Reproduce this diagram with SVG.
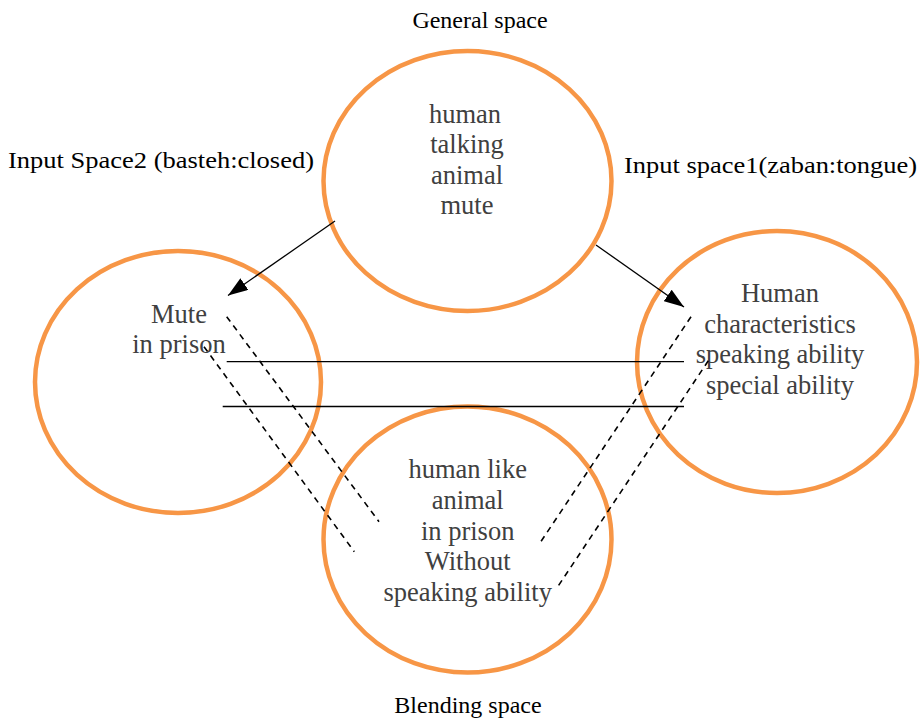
<svg xmlns="http://www.w3.org/2000/svg" width="920" height="719" viewBox="0 0 920 719">
<defs>
<style>
.space{fill:none;stroke:#F79646;stroke-width:4.5}
.inner{font-family:"Liberation Serif","Times New Roman",serif;font-size:26.5px;fill:#404040;text-anchor:middle}
.title{font-family:"Liberation Serif","Times New Roman",serif;font-size:24px;fill:#000}
.solid{stroke:#000;stroke-width:1.3;fill:none}
.dash{stroke:#000;stroke-width:1.6;fill:none;stroke-dasharray:6,5}
.arrow{stroke:#000;stroke-width:1.3;fill:none;marker-end:url(#ah)}
</style>
<marker id="ah" viewBox="0 0 20 14" refX="20" refY="7" markerWidth="20" markerHeight="14" markerUnits="userSpaceOnUse" orient="auto">
<path d="M0,0 L20,7 L0,14 Z" fill="#000"/>
</marker>
</defs>
<rect width="920" height="719" fill="#fff"/>
<g id="general-space">
<ellipse class="space" cx="467.5" cy="181" rx="144" ry="130"/>
<text class="title" x="480" y="28" text-anchor="middle">General space</text>
<text class="inner" x="465" y="122.5">human</text>
<text class="inner" x="467" y="153">talking</text>
<text class="inner" x="467" y="183.6">animal</text>
<text class="inner" x="467" y="214.2">mute</text>
</g>
<g id="input-space2">
<ellipse class="space" cx="178" cy="382" rx="143" ry="131"/>
<text class="title" x="8" y="168" textLength="306" lengthAdjust="spacingAndGlyphs" font-size="26">Input Space2 (basteh:closed)</text>
<text class="inner" x="179" y="322.7">Mute</text>
<text class="inner" x="179" y="353.3">in prison</text>
</g>
<g id="input-space1">
<ellipse class="space" cx="777" cy="362" rx="140" ry="131"/>
<text class="title" x="624" y="173" textLength="293" lengthAdjust="spacingAndGlyphs" font-size="26">Input space1(zaban:tongue)</text>
<text class="inner" x="780" y="302">Human</text>
<text class="inner" x="780" y="332.5">characteristics</text>
<text class="inner" x="780" y="363">speaking ability</text>
<text class="inner" x="780" y="393.5">special ability</text>
</g>
<g id="blending-space">
<ellipse class="space" cx="467.5" cy="539.5" rx="144" ry="133"/>
<text class="title" x="468" y="713" text-anchor="middle">Blending space</text>
<text class="inner" x="467.7" y="478.3">human like</text>
<text class="inner" x="467.7" y="509">animal</text>
<text class="inner" x="467.7" y="539.5">in prison</text>
<text class="inner" x="467.7" y="570">Without</text>
<text class="inner" x="467.7" y="600.7">speaking ability</text>
</g>
<g id="connectors">
<line class="arrow" x1="335" y1="221" x2="228" y2="295.5"/>
<line class="arrow" x1="596" y1="245" x2="684" y2="307"/>
<line class="solid" x1="226.7" y1="361.7" x2="684" y2="361.7"/>
<line class="solid" x1="222.7" y1="406.5" x2="684" y2="406.5"/>
<line class="dash" x1="226.7" y1="316.7" x2="379" y2="521.7"/>
<line class="dash" x1="204" y1="346.7" x2="354.3" y2="551.7"/>
<line class="dash" x1="691" y1="316.7" x2="539.3" y2="544"/>
<line class="dash" x1="708.3" y1="360.7" x2="556.7" y2="588.3"/>
</g>
</svg>
